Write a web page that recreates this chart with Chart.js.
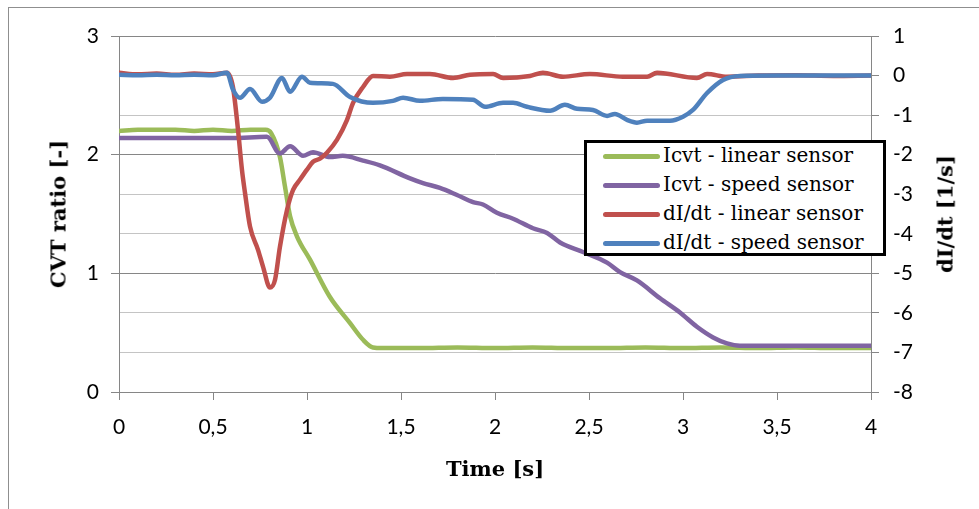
<!DOCTYPE html>
<html>
<head>
<meta charset="utf-8">
<script src="https://cdn.jsdelivr.net/npm/chart.js@4.4.1/dist/chart.umd.min.js"></script>
<style>
  html, body { margin: 0; padding: 0; background: #fff; }
  #wrap { position: relative; width: 979px; height: 509px; overflow: hidden; }
  #frame { position: absolute; left: 8px; top: 7px; width: 1200px; height: 800px;
           border-left: 1px solid #8f8f8f; border-top: 1px solid #8f8f8f; }
  canvas { position: absolute; left: 0; top: 0; }
  .title { position: absolute; font-family: "DejaVu Serif", serif; font-weight: bold;
           font-size: 21px; color: #000; white-space: nowrap; }
  #legend { position: absolute; left: 584px; top: 140px; width: 302px; height: 116px;
            box-sizing: border-box; border: 3px solid #000; background: #fff; }
  .row { position: absolute; left: 0; height: 28px; width: 100%; }
  .swatch { position: absolute; left: 16px; width: 57px; height: 5px; border-radius: 3px; top: 11px; }
  .lab { position: absolute; left: 76px; top: -1px; font-family: "DejaVu Serif", serif;
         font-size: 20px; color: #000; white-space: nowrap; line-height: 26px; }
</style>
</head>
<body>
<div id="wrap">
  <div id="frame"></div>
  <canvas id="c" width="979" height="509"></canvas>
  <div class="title" id="tx" style="left:495px; top:468px; transform:translate(-50%,-50%);">Time [s]</div>
  <div class="title" id="tyl" style="left:58px; top:214px; transform:translate(-50%,-50%) rotate(-90deg);">CVT ratio [-]</div>
  <div class="title" id="tyr" style="left:945px; top:214px; transform:translate(-50%,-50%) rotate(-90deg);">dI/dt [1/s]</div>
  <div id="legend"></div>
</div>
<script>
// ---- data ----
const seriesNames = ["Icvt - linear sensor", "Icvt - speed sensor", "dI/dt - linear sensor", "dI/dt - speed sensor"];

const greenT = [0, 0.1, 0.2, 0.3, 0.4, 0.5, 0.6, 0.7, 0.78, 0.81, 0.856, 0.883, 0.91, 0.947, 1.016, 1.122, 1.229, 1.298, 1.351, 1.4, 1.6, 1.8, 2.0, 2.2, 2.4, 2.6, 2.8, 3.0, 3.2, 3.4, 3.6, 3.8, 4.0];
const greenV = [2.2, 2.21, 2.21, 2.21, 2.2, 2.21, 2.2, 2.21, 2.21, 2.18, 1.98, 1.73, 1.48, 1.31, 1.115, 0.80, 0.58, 0.44, 0.375, 0.37, 0.37, 0.375, 0.37, 0.375, 0.37, 0.37, 0.375, 0.37, 0.375, 0.37, 0.375, 0.37, 0.37];

const purpleT = [0, 0.2, 0.4, 0.6, 0.787, 0.856, 0.91, 0.979, 1.032, 1.122, 1.19, 1.298, 1.388, 1.548, 1.617, 1.707, 1.798, 1.883, 1.936, 2.01, 2.096, 2.202, 2.277, 2.346, 2.468, 2.596, 2.665, 2.755, 2.878, 2.984, 3.074, 3.16, 3.234, 3.303, 3.5, 3.75, 4.0];
const purpleV = [2.14, 2.14, 2.14, 2.14, 2.15, 2.01, 2.07, 1.99, 2.02, 1.98, 1.99, 1.95, 1.91, 1.80, 1.76, 1.72, 1.66, 1.60, 1.58, 1.51, 1.46, 1.38, 1.34, 1.26, 1.18, 1.09, 1.01, 0.94, 0.79, 0.67, 0.55, 0.46, 0.41, 0.39, 0.39, 0.39, 0.39];

const redT = [0, 0.1, 0.2, 0.3, 0.4, 0.5, 0.574, 0.606, 0.633, 0.654, 0.67, 0.697, 0.739, 0.766, 0.803, 0.83, 0.856, 0.894, 0.926, 0.963, 1.0, 1.032, 1.069, 1.106, 1.16, 1.213, 1.245, 1.298, 1.351, 1.441, 1.532, 1.654, 1.777, 1.867, 1.99, 2.043, 2.186, 2.255, 2.362, 2.505, 2.68, 2.809, 2.862, 3.074, 3.128, 3.234, 3.4, 3.6, 3.8, 4.0];
const redV = [0.07, 0.03, 0.05, 0.02, 0.05, 0.03, 0.07, -0.29, -1.37, -2.38, -2.96, -3.82, -4.40, -4.83, -5.36, -5.16, -4.33, -3.39, -2.89, -2.63, -2.38, -2.18, -2.10, -1.95, -1.62, -1.12, -0.69, -0.29, -0.01, -0.03, 0.04, 0.04, -0.06, 0.02, 0.04, -0.06, -0.01, 0.07, -0.03, 0.04, -0.03, -0.03, 0.07, -0.06, 0.04, -0.03, 0.0, 0.01, -0.01, 0.0];

const blueT = [0, 0.1, 0.2, 0.3, 0.4, 0.5, 0.574, 0.606, 0.644, 0.697, 0.761, 0.803, 0.867, 0.91, 0.973, 1.016, 1.138, 1.229, 1.351, 1.457, 1.511, 1.601, 1.723, 1.883, 1.947, 2.043, 2.096, 2.17, 2.293, 2.372, 2.436, 2.521, 2.596, 2.638, 2.702, 2.755, 2.809, 2.931, 3.0, 3.053, 3.128, 3.213, 3.303, 3.5, 3.75, 4.0];
const blueV = [0.02, 0.01, 0.02, 0.01, 0.02, 0.01, 0.07, -0.35, -0.56, -0.34, -0.66, -0.56, -0.06, -0.41, -0.03, -0.18, -0.21, -0.54, -0.69, -0.64, -0.56, -0.64, -0.59, -0.61, -0.79, -0.69, -0.69, -0.79, -0.89, -0.74, -0.84, -0.87, -1.02, -0.97, -1.12, -1.19, -1.14, -1.14, -1.04, -0.87, -0.44, -0.11, -0.01, 0.0, 0.0, 0.0];

const leftTicks = [0, 1, 2, 3];
const rightTicks = [-8, -7, -6, -5, -4, -3, -2, -1, 0, 1];
const xTicks = [0, 0.5, 1, 1.5, 2, 2.5, 3, 3.5, 4];

const colors = ["#9BBB59", "#8064A2", "#C0504D", "#4F81BD"];

function pts(t, v) { return t.map((x, i) => ({ x: x, y: v[i] })); }

const datasets = [
  { label: seriesNames[0], data: pts(greenT, greenV), yAxisID: "y", order: 4 },
  { label: seriesNames[1], data: pts(purpleT, purpleV), yAxisID: "y", order: 3 },
  { label: seriesNames[2], data: pts(redT, redV), yAxisID: "y1", order: 2 },
  { label: seriesNames[3], data: pts(blueT, blueV), yAxisID: "y1", order: 1 }
].map((d, i) => Object.assign(d, {
  borderColor: colors[i], backgroundColor: colors[i], borderWidth: 4.5,
  pointRadius: 0, fill: false, cubicInterpolationMode: "monotone",
  borderCapStyle: "round", borderJoinStyle: "round"
}));

const dark = "#868686", light = "#c4c4c4";
const tickFont = { family: "Lato", size: 21 };
const fmt = v => String(v).replace(".", ",");

new Chart(document.getElementById("c"), {
  type: "line",
  data: { datasets: datasets },
  options: {
    responsive: false, animation: false, devicePixelRatio: 1,
    layout: { padding: { top: 36, left: 0, right: 0, bottom: 0 } },
    plugins: { legend: { display: false }, tooltip: { enabled: false } },
    scales: {
      x: {
        type: "linear", min: 0, max: 4,
        afterBuildTicks: s => { s.ticks = xTicks.map(v => ({ value: v })); },
        ticks: { callback: fmt, font: tickFont, color: "#000", padding: 15, maxRotation: 0 },
        grid: { drawOnChartArea: false, color: dark, tickLength: 8, lineWidth: 1 },
        border: { color: dark, width: 1 },
        afterFit: s => { s.height = 117; }
      },
      y: {
        position: "left", min: 0, max: 3,
        afterBuildTicks: s => { s.ticks = leftTicks.map(v => ({ value: v })); },
        ticks: { callback: fmt, font: tickFont, color: "#000", padding: 12 },
        grid: { color: dark, tickLength: 8, lineWidth: 1 },
        border: { color: dark, width: 1 },
        afterFit: s => { s.width = 119; }
      },
      y1: {
        position: "right", min: -8, max: 1,
        afterBuildTicks: s => { s.ticks = rightTicks.map(v => ({ value: v })); },
        ticks: { callback: fmt, font: tickFont, color: "#000", padding: 14 },
        grid: {
          color: ctx => (ctx.tick && [-8, -5, -2, 1].includes(ctx.tick.value)) ? "rgba(0,0,0,0)" : light,
          tickColor: dark, tickLength: 8, lineWidth: 1
        },
        border: { color: dark, width: 1 },
        afterFit: s => { s.width = 108; }
      }
    }
  }
});

// legend (order as in the reference)
const leg = document.getElementById("legend");
const rowTops = [0, 29, 58, 87];
seriesNames.forEach((name, i) => {
  const r = document.createElement("div");
  r.className = "row";
  r.style.top = rowTops[i] + "px";
  r.innerHTML = '<div class="swatch" style="background:' + colors[i] + '"></div><div class="lab">' + name + '</div>';
  leg.appendChild(r);
});
</script>
</body>
</html>
